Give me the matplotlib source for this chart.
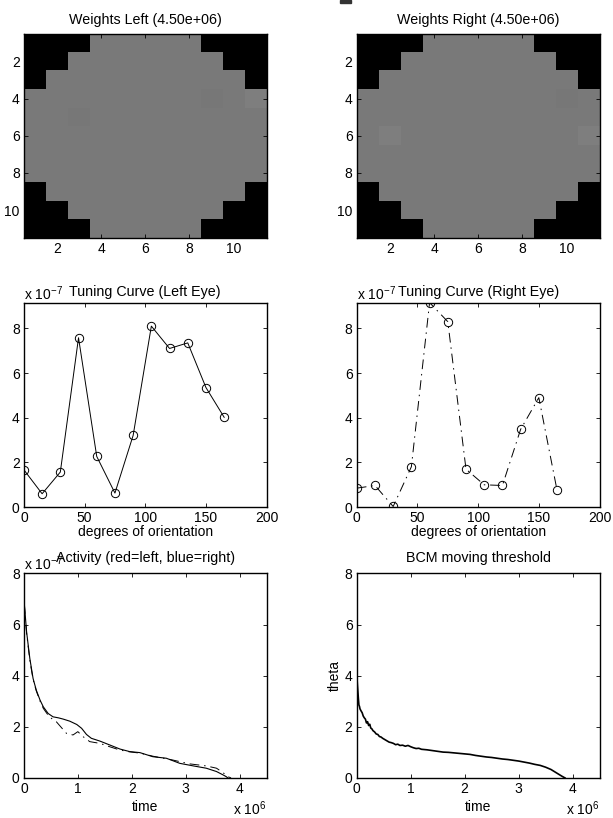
import numpy as np
import matplotlib.pyplot as plt
from matplotlib.patches import Rectangle

plt.rcParams['font.family'] = ['Liberation Sans', 'DejaVu Sans']
plt.rcParams['font.size'] = 10
plt.rcParams['mathtext.fontset'] = 'custom'
plt.rcParams['mathtext.rm'] = 'Liberation Sans'
plt.rcParams['mathtext.it'] = 'Liberation Sans:italic'
plt.rcParams['mathtext.bf'] = 'Liberation Sans:bold'

# receptive field weights at t = 4.5e6 (0 = outside the circular field)
weights_left = [
    [0, 0, 0, .48, .48, .48, .48, .48, 0, 0, 0],
    [0, 0, .48, .48, .48, .48, .48, .48, .48, 0, 0],
    [0, .48, .48, .48, .48, .48, .48, .48, .48, .48, 0],
    [.48, .48, .48, .48, .48, .48, .48, .48, .465, .48, .495],
    [.48, .48, .465, .48, .48, .48, .48, .48, .48, .48, .48],
    [.48, .48, .48, .48, .48, .48, .48, .48, .48, .48, .48],
    [.48, .48, .48, .48, .48, .48, .48, .48, .48, .48, .48],
    [.48, .48, .48, .48, .48, .48, .48, .48, .48, .48, .48],
    [0, .48, .48, .48, .48, .48, .48, .48, .48, .48, 0],
    [0, 0, .48, .48, .48, .48, .48, .48, .48, 0, 0],
    [0, 0, 0, .48, .48, .48, .48, .48, 0, 0, 0],
]
weights_right = [
    [0, 0, 0, .48, .48, .48, .48, .48, 0, 0, 0],
    [0, 0, .48, .48, .48, .48, .48, .48, .48, 0, 0],
    [0, .48, .48, .48, .48, .48, .48, .48, .48, .48, 0],
    [.48, .48, .48, .48, .48, .48, .48, .48, .48, .465, .48],
    [.48, .48, .48, .48, .48, .48, .48, .48, .48, .48, .48],
    [.48, .495, .48, .48, .48, .48, .48, .48, .48, .48, .495],
    [.48, .48, .48, .48, .48, .48, .48, .48, .48, .48, .48],
    [.48, .48, .48, .48, .48, .48, .48, .48, .48, .48, .48],
    [0, .48, .48, .48, .48, .48, .48, .48, .48, .48, 0],
    [0, 0, .48, .48, .48, .48, .48, .48, .48, 0, 0],
    [0, 0, 0, .48, .48, .48, .48, .48, 0, 0, 0],
]

# tuning curves, response in units of 1e-7
orientations = [0, 15, 30, 45, 60, 75, 90, 105, 120, 135, 150, 165]
tuning_left = [1.67, 0.60, 1.57, 7.58, 2.27, 0.63, 3.21, 8.10, 7.10, 7.35, 5.35, 4.02]
tuning_right = [0.85, 0.97, 0.03, 1.81, 9.15, 8.30, 1.70, 1.00, 0.97, 3.48, 4.90, 0.76]

# activity traces, time in units of 1e6, activity in units of 1e-7
act_left_t = [0.00, 0.01, 0.05, 0.11, 0.17, 0.23, 0.30, 0.36, 0.45, 0.54, 0.64,
              0.73, 0.85, 0.98, 1.07, 1.16, 1.25, 1.41, 1.59, 1.78, 1.96, 2.15,
              2.39, 2.64, 2.89, 3.14, 3.38, 3.57, 3.69, 3.75, 3.78]
act_left = [6.80, 6.75, 5.71, 4.67, 3.89, 3.43, 3.04, 2.78, 2.52, 2.39, 2.35,
            2.30, 2.22, 2.09, 1.94, 1.70, 1.55, 1.44, 1.29, 1.13, 1.03, 0.99,
            0.83, 0.77, 0.57, 0.47, 0.38, 0.25, 0.12, 0.05, 0.00]
act_right_t = [0.00, 0.01, 0.05, 0.11, 0.17, 0.23, 0.30, 0.36, 0.45, 0.51, 0.60,
               0.79, 0.91, 1.00, 1.10, 1.22, 1.41, 1.59, 1.78, 1.96, 2.15, 2.39,
               2.76, 3.07, 3.38, 3.57, 3.69, 3.78, 3.84]
act_right = [6.80, 6.72, 5.65, 4.60, 3.85, 3.40, 3.00, 2.72, 2.45, 2.33, 2.20,
             1.74, 1.68, 1.81, 1.61, 1.42, 1.35, 1.22, 1.09, 1.02, 0.97, 0.85,
             0.70, 0.55, 0.47, 0.38, 0.21, 0.05, 0.00]

# BCM sliding threshold, time in units of 1e6
theta_t = [0.00, 0.01, 0.02, 0.03, 0.04, 0.05, 0.06, 0.08, 0.10, 0.12, 0.14,
           0.16, 0.18, 0.20, 0.22, 0.24, 0.26, 0.28, 0.30, 0.33, 0.36, 0.39,
           0.42, 0.45, 0.48, 0.52, 0.56, 0.60, 0.64, 0.68, 0.72, 0.76, 0.80,
           0.85, 0.90, 0.95, 1.00, 1.05, 1.10, 1.15, 1.20, 1.30, 1.40, 1.50,
           1.60, 1.70, 1.80, 1.90, 2.00, 2.10, 2.20, 2.30, 2.40, 2.50, 2.60,
           2.70, 2.80, 2.90, 3.00, 3.10, 3.20, 3.30, 3.40, 3.50, 3.60, 3.70,
           3.80, 3.86]
theta = [4.05, 3.70, 3.40, 3.10, 2.85, 2.80, 2.70, 2.62, 2.55, 2.42, 2.35,
         2.30, 2.15, 2.20, 2.05, 2.10, 1.95, 1.92, 1.85, 1.80, 1.72, 1.70,
         1.62, 1.60, 1.55, 1.50, 1.45, 1.40, 1.38, 1.35, 1.30, 1.32, 1.27,
         1.28, 1.24, 1.27, 1.22, 1.18, 1.15, 1.16, 1.12, 1.10, 1.07, 1.04,
         1.01, 1.00, 0.98, 0.96, 0.94, 0.92, 0.88, 0.85, 0.82, 0.80, 0.77,
         0.74, 0.72, 0.69, 0.66, 0.62, 0.58, 0.53, 0.49, 0.42, 0.33, 0.20,
         0.07, 0.00]


def style_axes(ax):
    """MATLAB-like box with inward ticks on all sides"""
    ax.tick_params(direction='in', top=True, right=True, length=3, width=0.6, pad=3)
    for s in ax.spines.values():
        s.set_linewidth(1.0)


fig = plt.figure(figsize=(6.13, 8.18), dpi=100)

cols = [0.039, 0.582]
rows = [0.709, 0.380, 0.049]
w, h = 0.396, 0.250
dashdot = (0, (10, 5, 1.5, 5))
title_size = 10.3

# weights
for i, (wts, name) in enumerate([(weights_left, 'Left'), (weights_right, 'Right')]):
    ax = fig.add_axes([cols[i], rows[0], w, h])
    ax.imshow(np.array(wts), cmap='gray', vmin=0, vmax=1, aspect='auto',
              interpolation='nearest', extent=[0.5, 11.5, 11.5, 0.5])
    ax.set_xticks([2, 4, 6, 8, 10])
    ax.set_yticks([2, 4, 6, 8, 10])
    ax.set_title('Weights %s (4.50e+06)' % name, pad=7, fontsize=title_size)
    style_axes(ax)

# tuning curves
tune_top = max(tuning_left + tuning_right)
for i, (vals, name, ls) in enumerate([(tuning_left, 'Left', '-'),
                                      (tuning_right, 'Right', dashdot)]):
    ax = fig.add_axes([cols[i], rows[1], w, h])
    ax.plot(orientations, vals, color='k', linestyle=ls, linewidth=0.7,
            marker='o', markersize=6, markerfacecolor='none',
            markeredgecolor='k', markeredgewidth=0.7)
    ax.set_xlim(0, 200)
    ax.set_ylim(0, tune_top)
    ax.set_xticks([0, 50, 100, 150, 200])
    ax.set_yticks([0, 2, 4, 6, 8])
    ax.set_xlabel('degrees of orientation', labelpad=0)
    ax.set_title('Tuning Curve (%s Eye)' % name, pad=5, fontsize=title_size)
    ax.text(0, 1.015, r'x 10$^{-7}$', transform=ax.transAxes)
    style_axes(ax)

# activity
ax = fig.add_axes([cols[0], rows[2], w, h])
ax.plot(act_left_t, act_left, 'k-', linewidth=0.8)
ax.plot(act_right_t, act_right, color='k', linestyle=dashdot, linewidth=0.7)
ax.set_xlim(0, 4.5)
ax.set_ylim(0, 8)
ax.set_xticks([0, 1, 2, 3, 4])
ax.set_yticks([0, 2, 4, 6, 8])
ax.set_xlabel('time', labelpad=3)
ax.set_title('Activity (red=left, blue=right)', pad=8, fontsize=title_size)
ax.text(0, 1.015, r'x 10$^{-7}$', transform=ax.transAxes)
ax.text(1, -0.105, r'x 10$^{6}$', transform=ax.transAxes, ha='right', va='top')
style_axes(ax)

# threshold
ax = fig.add_axes([cols[1], rows[2], w, h])
ax.plot(theta_t, theta, 'k-', linewidth=1.2)
ax.set_xlim(0, 4.5)
ax.set_ylim(0, 8)
ax.set_xticks([0, 1, 2, 3, 4])
ax.set_yticks([0, 2, 4, 6, 8])
ax.set_xlabel('time', labelpad=3)
ax.set_ylabel('theta', labelpad=2)
ax.set_title('BCM moving threshold', pad=8, fontsize=title_size)
ax.text(1, -0.105, r'x 10$^{6}$', transform=ax.transAxes, ha='right', va='top')
style_axes(ax)

# small mark at the top edge
fig.patches.append(Rectangle((340 / 613, 1 - 3 / 818), 11 / 613, 3 / 818,
                             transform=fig.transFigure, color='#333333'))

fig.savefig('out.png', dpi=100)
